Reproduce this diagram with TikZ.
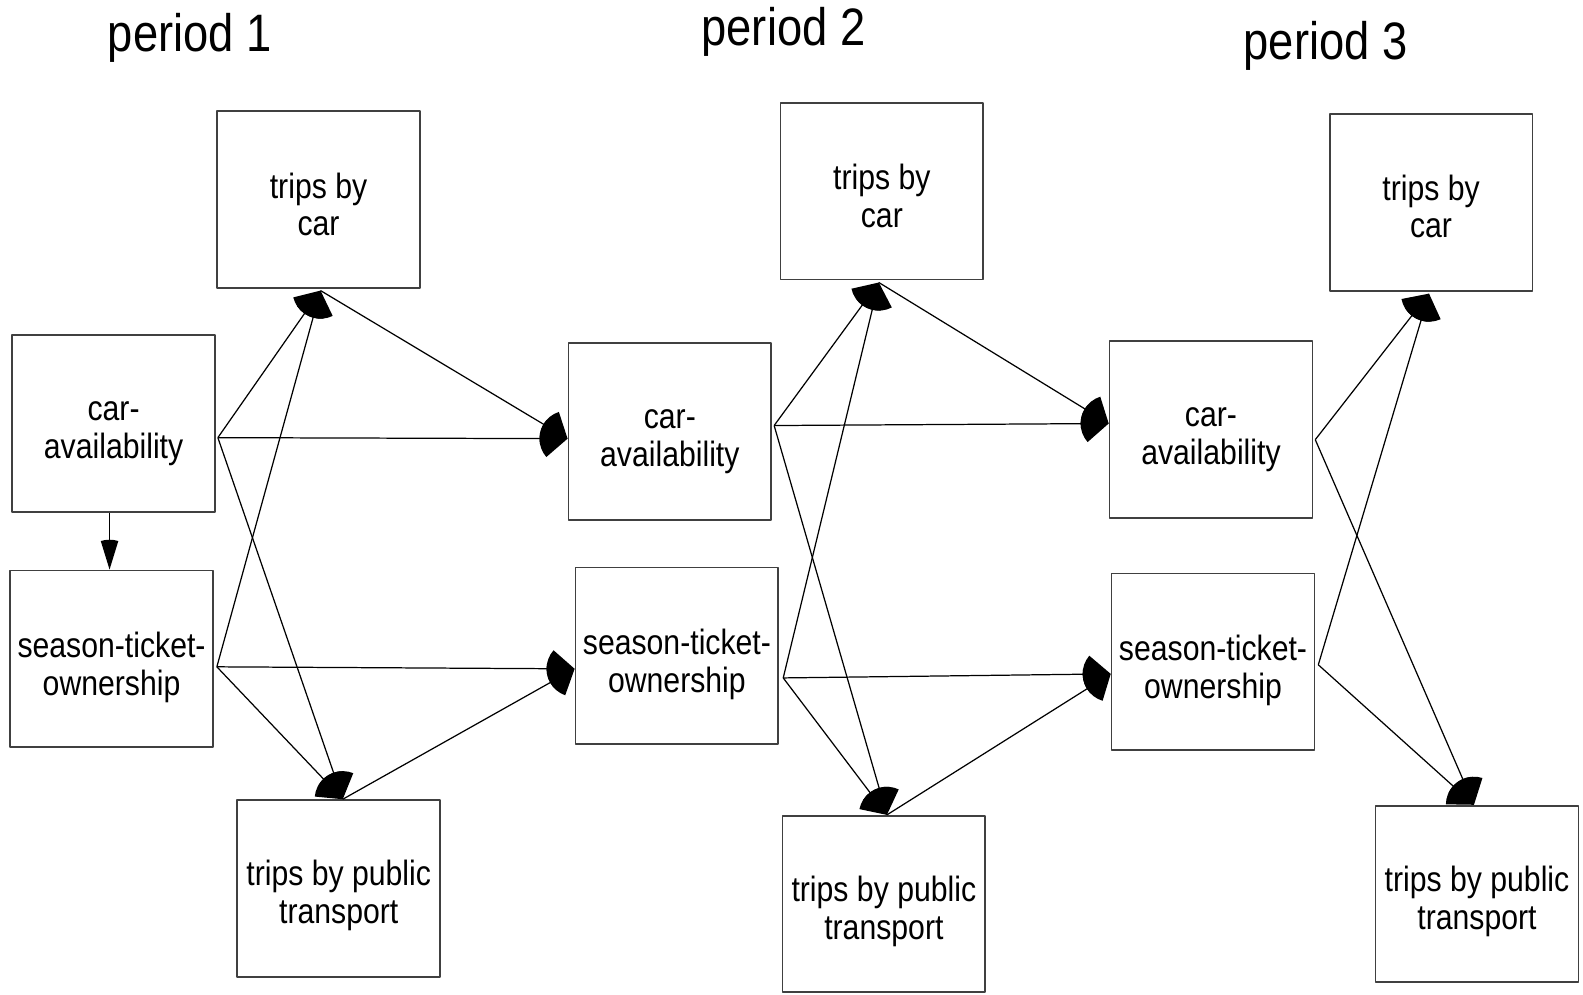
\documentclass[tikz,border=0pt]{standalone}
\usepackage{fontspec}
\setmainfont{Liberation Sans}[FakeStretch=0.86]
\usetikzlibrary{arrows.meta,calc}
% mũi tên hình quạt
\pgfdeclarearrow{
	name=Fan,
	parameters={\the\pgfarrowlength,\the\pgfarrowwidth},
	setup code={
		\pgfarrowssettipend{0pt}
		\pgfarrowssetbackend{-\pgfarrowlength}
		\pgfarrowssetlineend{-0.6\pgfarrowlength}
		\pgfarrowssavethe\pgfarrowlength
		\pgfarrowssavethe\pgfarrowwidth
	},
	drawing code={
		\pgfmathsetmacro\fanang{asin(0.5*\pgfarrowwidth/\pgfarrowlength)}
		\pgfpathmoveto{\pgfpointorigin}
		\pgfpathlineto{\pgfpointpolar{180-\fanang}{\pgfarrowlength}}
		\pgfpatharc{180-\fanang}{180+\fanang}{\pgfarrowlength}
		\pgfpathclose
		\pgfusepathqfill
	},
	defaults={length=8pt,width=10pt}
}
\begin{document}
\begin{tikzpicture}[x=0.010096cm, y=-0.010096cm, line join=round,
	box/.style={draw=black!75, line width=0.5pt, minimum width=2.029cm, minimum height=1.767cm, inner sep=0pt},
	txt/.style={inner sep=0pt, align=center, font=\fontsize{10}{10.8}\selectfont},
	arr/.style={line width=0.35pt, -{Fan[length=8pt,width=10.5pt]}},
	small/.style={line width=0.35pt, -{Fan[length=8.5pt,width=5pt]}},
	title/.style={font=\fontsize{15}{18}\selectfont}]
	\useasboundingbox (0,0) rectangle (1568,985);
	% Tiêu đề
	\node[title] (p1) at (188,38) {period 1};
	\node[title] (p2) at (776,32) {period 2};
	\node[title] (p3) at (1313,45) {period 3};
	% period 1
	\node[box] (car1) at (315.5,197.5) {};
	\node[box] (ca1) at (112.5,419.5) {};
	\node[box] (st1) at (110.5,652.5) {};
	\node[box] (pt1) at (335.5,880) {};
	% period 2
	\node[box] (car2) at (873.5,189.5) {};
	\node[box] (ca2) at (663.5,427.5) {};
	\node[box] (st2) at (670.5,649.5) {};
	\node[box] (pt2) at (875.5,895.5) {};
	% period 3
	\node[box] (car3) at (1417.5,200.5) {};
	\node[box] (ca3) at (1199.5,425.5) {};
	\node[box] (st3) at (1201.5,655.5) {};
	\node[box] (pt3) at (1463,885.5) {};
	% Chữ trong hộp
	\node[txt] (car1t) at ($(car1)+(0,5)$) {trips by\\car};
	\node[txt] (car2t) at ($(car2)+(0,5)$) {trips by\\car};
	\node[txt] (car3t) at ($(car3)+(0,4)$) {trips by\\car};
	\node[txt] (ca1t) at ($(ca1)+(0,10)$) {car-\\availability};
	\node[txt] (ca2t) at ($(ca2)+(0,10)$) {car-\\availability};
	\node[txt] (ca3t) at ($(ca3)+(0,10)$) {car-\\availability};
	\node[txt] (st1t) at ($(st1)+(0,9)$) {season-ticket-\\ownership};
	\node[txt] (st2t) at ($(st2)+(0,9)$) {season-ticket-\\ownership};
	\node[txt] (st3t) at ($(st3)+(0,9)$) {season-ticket-\\ownership};
	\node[txt] (pt1t) at ($(pt1)+(0,7)$) {trips by public\\transport};
	\node[txt] (pt2t) at ($(pt2)+(0,7)$) {trips by public\\transport};
	\node[txt] (pt3t) at ($(pt3)+(0,7)$) {trips by public\\transport};
	% Điểm nối
	\coordinate (ca1o) at ($(ca1.east)+(2,14)$);
	\coordinate (st1o) at ($(st1.east)+(3,8)$);
	\coordinate (car1s) at ($(car1.south)+(2,2)$);
	\coordinate (pt1n) at ($(pt1.north)+(4,0)$);
	\coordinate (ca2i) at ($(ca2.west)+(0,7)$);
	\coordinate (ca2o) at ($(ca2.east)+(2,-6)$);
	\coordinate (st2i) at ($(st2.west)+(0,13)$);
	\coordinate (st2o) at ($(st2.east)+(4,22)$);
	\coordinate (car2s) at ($(car2.south)+(-3,2)$);
	\coordinate (pt2n) at ($(pt2.north)+(3,0)$);
	\coordinate (ca3i) at ($(ca3.west)+(0,-6)$);
	\coordinate (ca3o) at ($(ca3.east)+(2,10)$);
	\coordinate (st3i) at ($(st3.west)+(0,12)$);
	\coordinate (st3o) at ($(st3.east)+(3,3)$);
	\coordinate (car3s) at ($(car3.south)+(-2,2)$);
	\coordinate (pt3n) at ($(pt3.north)+(-3,0)$);
	% Mũi tên
	\draw[small] ($(ca1.south)+(-4,0)$)--($(st1.north)+(-2,0)$);
	\draw[arr] (ca1o)--(car1s);
	\draw[arr] (ca1o)--(ca2i);
	\draw[arr] (ca1o)--(pt1n);
	\draw[arr] (st1o)--(car1s);
	\draw[arr] (st1o)--(st2i);
	\draw[arr] (st1o)--(pt1n);
	\draw[arr] (car1s)--(ca2i);
	\draw[arr] (pt1n)--(st2i);
	\draw[arr] (ca2o)--(car2s);
	\draw[arr] (ca2o)--(ca3i);
	\draw[arr] (ca2o)--(pt2n);
	\draw[arr] (st2o)--(car2s);
	\draw[arr] (st2o)--(st3i);
	\draw[arr] (st2o)--(pt2n);
	\draw[arr] (car2s)--(ca3i);
	\draw[arr] (pt2n)--(st3i);
	\draw[arr] (ca3o)--(car3s);
	\draw[arr] (ca3o)--(pt3n);
	\draw[arr] (st3o)--(car3s);
	\draw[arr] (st3o)--(pt3n);
\end{tikzpicture}
\end{document}
